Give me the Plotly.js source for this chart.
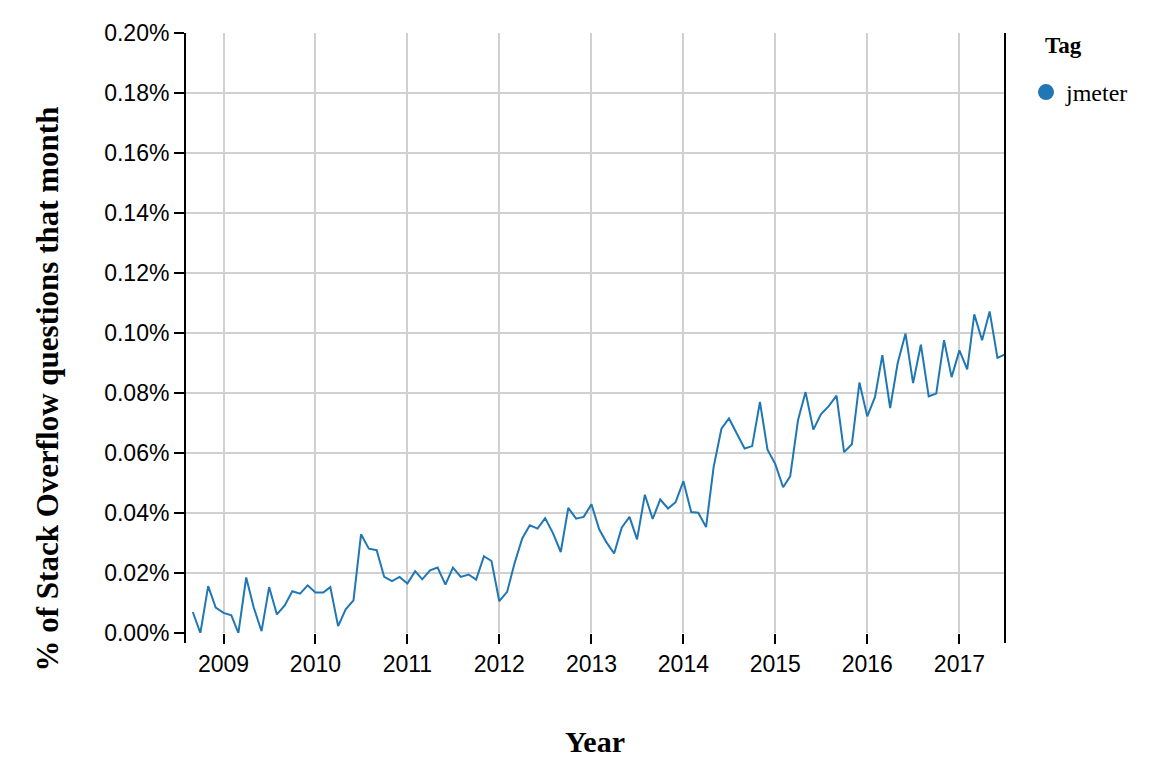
<!DOCTYPE html>
<html>
<head>
<meta charset="utf-8">
<script src="https://cdn.plot.ly/plotly-3.0.1.min.js"></script>
<style>
  html, body { margin: 0; padding: 0; background: #fff; }
  #chart { width: 1176px; height: 780px; }
</style>
</head>
<body>
<div id="chart"></div>
<script>
// Share of Stack Overflow questions tagged "jmeter", in percent, one value per month
var firstMonth = [2008, 9];   // Sep 2008
var share2008 = [0.0070, 0.0000, 0.0156, 0.0085];
var share2009 = [0.0067, 0.0059, 0.0000, 0.0185, 0.0085, 0.0006, 0.0153, 0.0062, 0.0092, 0.0139, 0.0131, 0.0159];
var share2010 = [0.0135, 0.0135, 0.0153, 0.0023, 0.0079, 0.0109, 0.0329, 0.0281, 0.0276, 0.0187, 0.0173, 0.0187];
var share2011 = [0.0165, 0.0206, 0.0179, 0.0209, 0.0218, 0.0161, 0.0218, 0.0187, 0.0195, 0.0178, 0.0256, 0.0240];
var share2012 = [0.0106, 0.0137, 0.0231, 0.0315, 0.0359, 0.0348, 0.0383, 0.0333, 0.0270, 0.0417, 0.0381, 0.0387];
var share2013 = [0.0429, 0.0345, 0.0303, 0.0265, 0.0351, 0.0387, 0.0312, 0.0461, 0.0380, 0.0445, 0.0415, 0.0436];
var share2014 = [0.0506, 0.0403, 0.0401, 0.0353, 0.0553, 0.0681, 0.0715, 0.0667, 0.0615, 0.0623, 0.0770, 0.0611];
var share2015 = [0.0563, 0.0486, 0.0522, 0.0709, 0.0803, 0.0678, 0.0729, 0.0756, 0.0791, 0.0603, 0.0629, 0.0835];
var share2016 = [0.0722, 0.0787, 0.0926, 0.0750, 0.0900, 0.0998, 0.0833, 0.0961, 0.0789, 0.0798, 0.0976, 0.0853];
var share2017 = [0.0942, 0.0879, 0.1062, 0.0976, 0.1072, 0.0917, 0.0929];

var yearTicks = ['2009', '2010', '2011', '2012', '2013', '2014', '2015', '2016', '2017'];
var tagName = 'jmeter';

var sharePct = [].concat(share2008, share2009, share2010, share2011, share2012,
	share2013, share2014, share2015, share2016, share2017);

// month dates for each value
var months = [];
var yr = firstMonth[0], mo = firstMonth[1];
for (var i = 0; i < sharePct.length; i++) {
	months.push(yr + '-' + (mo < 10 ? '0' + mo : mo) + '-01');
	mo++;
	if (mo > 12) { mo = 1; yr++; }
}

var blue = '#1f77b4';
var serif = '"Liberation Serif", "Times New Roman", serif';
var sans = '"Liberation Sans", Arial, Helvetica, sans-serif';

var traces = [{
	type: 'scatter',
	mode: 'lines',
	name: tagName,
	x: months,
	y: sharePct.map(function (v) { return v / 100; }),
	line: { color: blue, width: 2 },
	showlegend: false,
	hoverinfo: 'x+y'
}, {
	// legend entry only (circle symbol)
	type: 'scatter',
	mode: 'markers',
	name: tagName,
	x: [null],
	y: [null],
	marker: { color: blue, size: 16, symbol: 'circle' },
	showlegend: true
}];

var layout = {
	width: 1176,
	height: 780,
	margin: { l: 185, r: 171, t: 33, b: 147 },
	paper_bgcolor: '#fff',
	plot_bgcolor: '#fff',
	font: { family: sans, size: 23, color: '#000' },
	xaxis: {
		type: 'date',
		range: ['2008-08-01', '2017-07-01'],
		tickvals: yearTicks.map(function (y) { return y + '-01-01'; }),
		ticktext: yearTicks,
		showgrid: true,
		gridcolor: '#d0d0d0',
		gridwidth: 2,
		zeroline: false,
		showline: false,
		ticks: 'outside',
		ticklen: 10,
		tickwidth: 2,
		tickcolor: '#000',
		tickfont: { family: sans, size: 23, color: '#000' },
		title: {
			text: '<b>Year</b>',
			font: { family: serif, size: 30, color: '#000' },
			standoff: 55
		}
	},
	yaxis: {
		range: [0, 0.002],
		dtick: 0.0002,
		tick0: 0,
		tickformat: '.2%',
		showgrid: true,
		gridcolor: '#d0d0d0',
		gridwidth: 2,
		zeroline: false,
		showline: false,
		ticks: 'outside',
		ticklen: 10,
		tickwidth: 2,
		tickcolor: '#000',
		tickfont: { family: sans, size: 23, color: '#000' }
	},
	shapes: [
		{ type: 'line', xref: 'paper', yref: 'paper', x0: 0, x1: 0, y0: -10 / 600, y1: 1,
			line: { color: '#000', width: 2 } },
		{ type: 'line', xref: 'paper', yref: 'paper', x0: 1, x1: 1, y0: -10 / 600, y1: 1,
			line: { color: '#000', width: 2 } }
	],
	annotations: [{
		text: '<b>% of Stack Overflow questions that month</b>',
		xref: 'paper', yref: 'paper',
		x: 0, y: (633 - 389) / 600,
		xshift: -157,
		textangle: -90,
		showarrow: false,
		font: { family: serif, size: 31, color: '#000' }
	}, {
		// legend title
		text: '<b>Tag</b>',
		xref: 'paper', yref: 'paper',
		x: (1043 - 185) / 820, y: (633 - 45) / 600,
		xanchor: 'left', yanchor: 'middle',
		showarrow: false,
		font: { family: serif, size: 23, color: '#000' }
	}],
	showlegend: true,
	legend: {
		x: (1026 - 185) / 820,
		xanchor: 'left',
		y: (633 - 70) / 600,
		yanchor: 'top',
		bgcolor: 'rgba(0,0,0,0)',
		font: { family: serif, size: 24, color: '#000' }
	}
};

Plotly.newPlot('chart', traces, layout, { displayModeBar: false, staticPlot: true });
</script>
</body>
</html>
